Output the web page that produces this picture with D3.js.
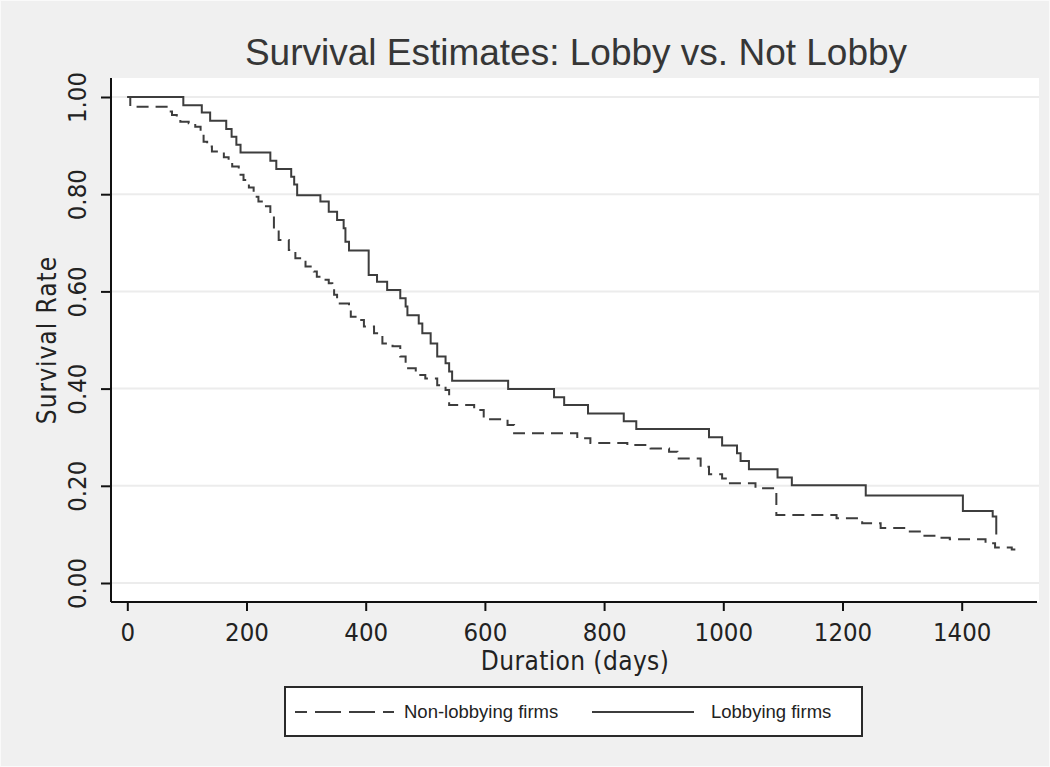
<!DOCTYPE html>
<html>
<head>
<meta charset="utf-8">
<script src="https://cdn.jsdelivr.net/npm/d3@7"></script>
<style>
  html, body { margin: 0; padding: 0; background: #f0f0f0; }
  svg { display: block; }
  .tick-label { font-family: "Liberation Sans Narrow", "DejaVu Sans Condensed", Arial, sans-serif; fill: #222; }
</style>
</head>
<body>
<svg class="chart"></svg>
<script>
// Kaplan-Meier step points (day, survival)
const lobbyDays = [0, 94, 125, 139, 166, 175, 183, 190, 240, 250, 275, 280, 285, 324, 338, 352, 363, 366, 372,
  405, 419, 436, 458, 467, 470, 489, 495, 509, 520, 534, 540, 545, 639, 716, 733, 773, 833, 854,
  976, 998, 1023, 1029, 1043, 1091, 1115, 1239, 1402, 1452, 1458]
const lobbySurv = [1.000, 0.983, 0.968, 0.951, 0.934, 0.918, 0.902, 0.886, 0.869, 0.852, 0.836, 0.820, 0.798, 0.785, 0.764, 0.747, 0.730, 0.702, 0.684,
  0.634, 0.620, 0.603, 0.586, 0.569, 0.551, 0.534, 0.514, 0.493, 0.466, 0.452, 0.435, 0.416, 0.399, 0.382, 0.366, 0.349, 0.333, 0.317,
  0.300, 0.283, 0.267, 0.251, 0.234, 0.217, 0.201, 0.180, 0.148, 0.137, 0.100]

const nonLobbyDays = [0, 5, 66, 75, 83, 89, 103, 114, 123, 128, 134, 142, 162, 170, 176, 187, 195, 204, 212, 220, 229, 240, 246, 254,
  271, 282, 290, 299, 313, 318, 330, 338, 344, 347, 352, 372, 375, 383, 397, 414, 428, 445, 458, 467, 484, 500, 520, 534, 540,
  582, 598, 638, 649, 755, 777, 839, 878, 909, 923, 962, 976, 998, 1007, 1054, 1089, 1190, 1233, 1264, 1308, 1332, 1360, 1380,
  1440, 1456, 1484, 1490]
const nonLobbySurv = [1.000, 0.980, 0.970, 0.963, 0.956, 0.949, 0.946, 0.939, 0.929, 0.908, 0.898, 0.888, 0.876, 0.870, 0.857, 0.840, 0.829, 0.814, 0.795, 0.785, 0.775, 0.761, 0.726, 0.706,
  0.685, 0.668, 0.661, 0.651, 0.641, 0.630, 0.624, 0.617, 0.606, 0.593, 0.575, 0.569, 0.548, 0.541, 0.528, 0.514, 0.493, 0.487, 0.466, 0.442, 0.428, 0.421, 0.407, 0.397, 0.366,
  0.356, 0.337, 0.325, 0.308, 0.298, 0.288, 0.284, 0.277, 0.270, 0.256, 0.239, 0.224, 0.215, 0.205, 0.195, 0.140, 0.133, 0.123, 0.113, 0.106, 0.097, 0.093, 0.090,
  0.082, 0.073, 0.069, 0.069]

const xTicks = [0, 200, 400, 600, 800, 1000, 1200, 1400]
const yTicks = [0, 0.2, 0.4, 0.6, 0.8, 1.0]
const seriesNames = ['Non-lobbying firms', 'Lobbying firms']

const width = 1050
const height = 767
const plot = { left: 111, right: 1039, top: 78, bottom: 602 }
const lineColor = '#3d3d3d'

const x = d3.scaleLinear().domain([0, 1400]).range([127.3, 961.7])
const y = d3.scaleLinear().domain([0, 1]).range([583, 97])

const chart = d3.select('.chart')
  .attr('width', width)
  .attr('height', height)

chart.append('rect')
  .attr('x', 0.5).attr('y', 0.5)
  .attr('width', width - 1).attr('height', height - 1)
  .attr('fill', '#f0f0f0')
  .attr('stroke', '#fafafa')

// plot region
chart.append('rect')
  .attr('x', plot.left).attr('y', plot.top)
  .attr('width', plot.right - plot.left).attr('height', plot.bottom - plot.top)
  .attr('fill', '#fff')

// gridlines
chart.append('g')
  .selectAll('line')
  .data(yTicks)
  .enter()
  .append('line')
  .attr('x1', plot.left + 1).attr('x2', plot.right)
  .attr('y1', d => y(d)).attr('y2', d => y(d))
  .attr('stroke', '#ececec')
  .attr('stroke-width', 2)

// title
chart.append('text')
  .attr('x', 576).attr('y', 65)
  .attr('text-anchor', 'middle')
  .attr('font-family', '"Liberation Sans", Arial, sans-serif')
  .attr('font-size', 37)
  .attr('fill', '#363636')
  .text('Survival Estimates: Lobby vs. Not Lobby')

// y axis
const yAxis = chart.append('g')
  .attr('transform', `translate(${plot.left},0)`)
  .call(d3.axisLeft(y).tickValues(yTicks).tickSize(10).tickFormat(d3.format('.2f')))
yAxis.select('.domain').attr('d', `M0,${plot.top}V${plot.bottom}`).attr('stroke', '#111').attr('stroke-width', 2)
yAxis.selectAll('.tick line').attr('stroke', '#111').attr('stroke-width', 2)
yAxis.selectAll('.tick text')
  .attr('class', 'tick-label')
  .attr('font-size', 25.5)
  .attr('x', null).attr('dy', null)
  .attr('text-anchor', 'middle')
  .attr('transform', 'translate(-25,0) rotate(-90)')

chart.append('text')
  .attr('class', 'tick-label')
  .attr('transform', `translate(56,${(y(0) + y(1)) / 2}) rotate(-90)`)
  .attr('text-anchor', 'middle')
  .attr('font-size', 26)
  .attr('letter-spacing', 1)
  .text('Survival Rate')

// x axis
const xAxis = chart.append('g')
  .attr('transform', `translate(0,${plot.bottom})`)
  .call(d3.axisBottom(x).tickValues(xTicks).tickSize(9).tickFormat(d3.format('d')))
xAxis.select('.domain').attr('d', `M${plot.left},0H${plot.right - 2}`).attr('stroke', '#111').attr('stroke-width', 2)
xAxis.selectAll('.tick line').attr('stroke', '#111').attr('stroke-width', 2)
xAxis.selectAll('.tick text')
  .attr('class', 'tick-label')
  .attr('font-size', 25.5)
  .attr('y', 39).attr('dy', null)

chart.append('text')
  .attr('class', 'tick-label')
  .attr('x', (plot.left + plot.right) / 2).attr('y', 670)
  .attr('text-anchor', 'middle')
  .attr('font-size', 26)
  .attr('letter-spacing', 0.4)
  .text('Duration (days)')

// curves
const line = d3.line()
  .x(d => x(d[0]))
  .y(d => y(d[1]))
  .curve(d3.curveStepAfter)

chart.append('path')
  .datum(d3.zip(nonLobbyDays, nonLobbySurv))
  .attr('d', line)
  .attr('fill', 'none')
  .attr('stroke', lineColor)
  .attr('stroke-width', 2)
  .attr('stroke-dasharray', '12,7')

chart.append('path')
  .datum(d3.zip(lobbyDays, lobbySurv))
  .attr('d', line)
  .attr('fill', 'none')
  .attr('stroke', lineColor)
  .attr('stroke-width', 2)

// legend
const legend = chart.append('g')
legend.append('rect')
  .attr('x', 285).attr('y', 687)
  .attr('width', 577).attr('height', 49)
  .attr('fill', '#fff')
  .attr('stroke', '#2a2a2a')
  .attr('stroke-width', 2)

legend.append('line')
  .attr('x1', 295).attr('x2', 394)
  .attr('y1', 712).attr('y2', 712)
  .attr('stroke', lineColor).attr('stroke-width', 2)
  .attr('stroke-dasharray', '12,8,26,8,26,8,12')

legend.append('line')
  .attr('x1', 592).attr('x2', 694)
  .attr('y1', 712).attr('y2', 712)
  .attr('stroke', lineColor).attr('stroke-width', 2)

legend.selectAll('text.legend-label')
  .data(seriesNames)
  .enter()
  .append('text')
  .attr('class', 'legend-label')
  .attr('x', (d, i) => [404, 711][i])
  .attr('y', 718)
  .attr('font-family', '"Liberation Sans", Arial, sans-serif')
  .attr('font-size', 18.5)
  .attr('fill', '#222')
  .text(d => d)
</script>
</body>
</html>
